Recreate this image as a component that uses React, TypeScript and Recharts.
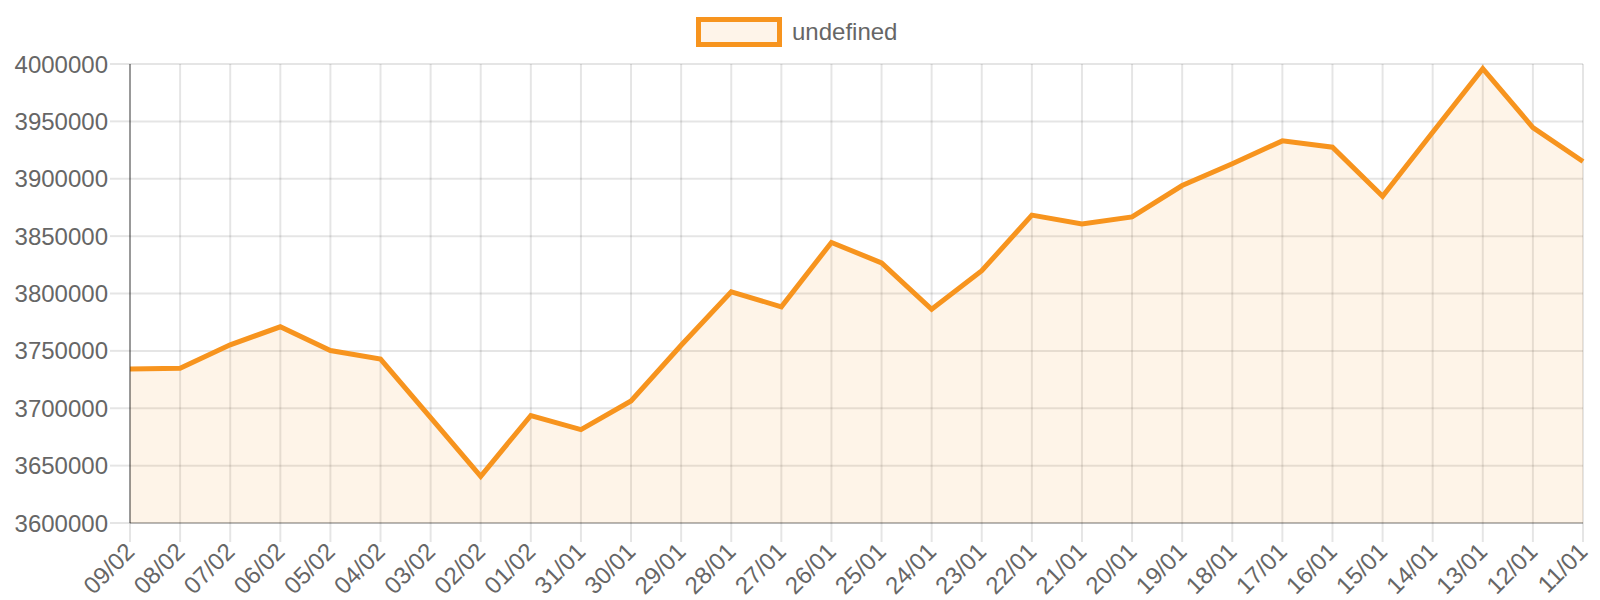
import React from "react";
import {
	AreaChart,
	Area,
	XAxis,
	YAxis,
	CartesianGrid,
} from "recharts";

const days = [
	"09/02", "08/02", "07/02", "06/02", "05/02", "04/02", "03/02", "02/02",
	"01/02", "31/01", "30/01", "29/01", "28/01", "27/01", "26/01", "25/01",
	"24/01", "23/01", "22/01", "21/01", "20/01", "19/01", "18/01", "17/01",
	"16/01", "15/01", "14/01", "13/01", "12/01", "11/01",
];

const totals = [
	3734200, 3734900, 3755300, 3771000, 3750300, 3742900, 3691800, 3640700,
	3693700, 3681400, 3706400, 3754900, 3801500, 3788400, 3844500, 3826700,
	3786300, 3819800, 3868300, 3860500, 3866700, 3894100, 3913100, 3933000,
	3927500, 3884800, 3940500, 3996000, 3944600, 3915000,
];

const yTicks = [
	3600000, 3650000, 3700000, 3750000, 3800000, 3850000, 3900000, 3950000,
	4000000,
];

const seriesName = "undefined";

const ORANGE = "#f7941e";
const FONT = "'Liberation Sans', Arial, Helvetica, sans-serif";

const data = days.map((day, i) => ({ day, total: totals[i] }));

function DayTick(props: any) {
	const { x, y, payload } = props;
	const ax = x;
	const ay = y + 5;
	return (
		<text
			x={ax}
			y={ay}
			transform={`rotate(-45 ${ax} ${ay})`}
			textAnchor="end"
			dominantBaseline="central"
			fill="#666"
			fontSize={24}
			fontFamily={FONT}
		>
			{payload.value}
		</text>
	);
}

export default function App() {
	return (
		<div
			style={{
				position: "absolute",
				left: 0,
				top: 0,
				width: 1600,
				height: 600,
				background: "#fff",
				fontFamily: FONT,
			}}
		>
			{/* legend, chart.js style */}
			<div
				style={{
					position: "absolute",
					left: 696,
					top: 17,
					width: 86,
					height: 30,
					boxSizing: "border-box",
					border: `5px solid ${ORANGE}`,
					background: "#fef4e9",
				}}
			/>
			<div
				style={{
					position: "absolute",
					left: 792,
					top: 18,
					fontSize: 24,
					lineHeight: "normal",
					color: "#666",
				}}
			>
				{seriesName}
			</div>

			<AreaChart
				width={1600}
				height={600}
				data={data}
				margin={{ top: 64, right: 17, bottom: 0, left: 10 }}
			>
				<CartesianGrid stroke="rgba(0,0,0,0.1)" strokeWidth={2} />
				<XAxis
					dataKey="day"
					interval={0}
					height={77}
					padding={{ left: 0, right: 0 }}
					tickSize={19}
					tickMargin={0}
					tickLine={{ stroke: "rgba(0,0,0,0.1)", strokeWidth: 2 }}
					axisLine={{ stroke: "rgba(0,0,0,0.2)", strokeWidth: 2 }}
					tick={<DayTick />}
				/>
				<YAxis
					width={120}
					domain={[3600000, 4000000]}
					ticks={yTicks}
					interval={0}
					tickSize={20}
					tickMargin={2}
					tickLine={{ stroke: "rgba(0,0,0,0.1)", strokeWidth: 2 }}
					axisLine={{ stroke: "rgba(0,0,0,0.33)", strokeWidth: 2 }}
					tick={{ fill: "#666", fontSize: 24, fontFamily: FONT }}
				/>
				<Area
					type="linear"
					dataKey="total"
					name={seriesName}
					stroke={ORANGE}
					strokeWidth={5}
					strokeLinejoin="miter"
					fill={ORANGE}
					fillOpacity={0.1}
					dot={false}
					activeDot={false}
					isAnimationActive={false}
				/>
			</AreaChart>
		</div>
	);
}
